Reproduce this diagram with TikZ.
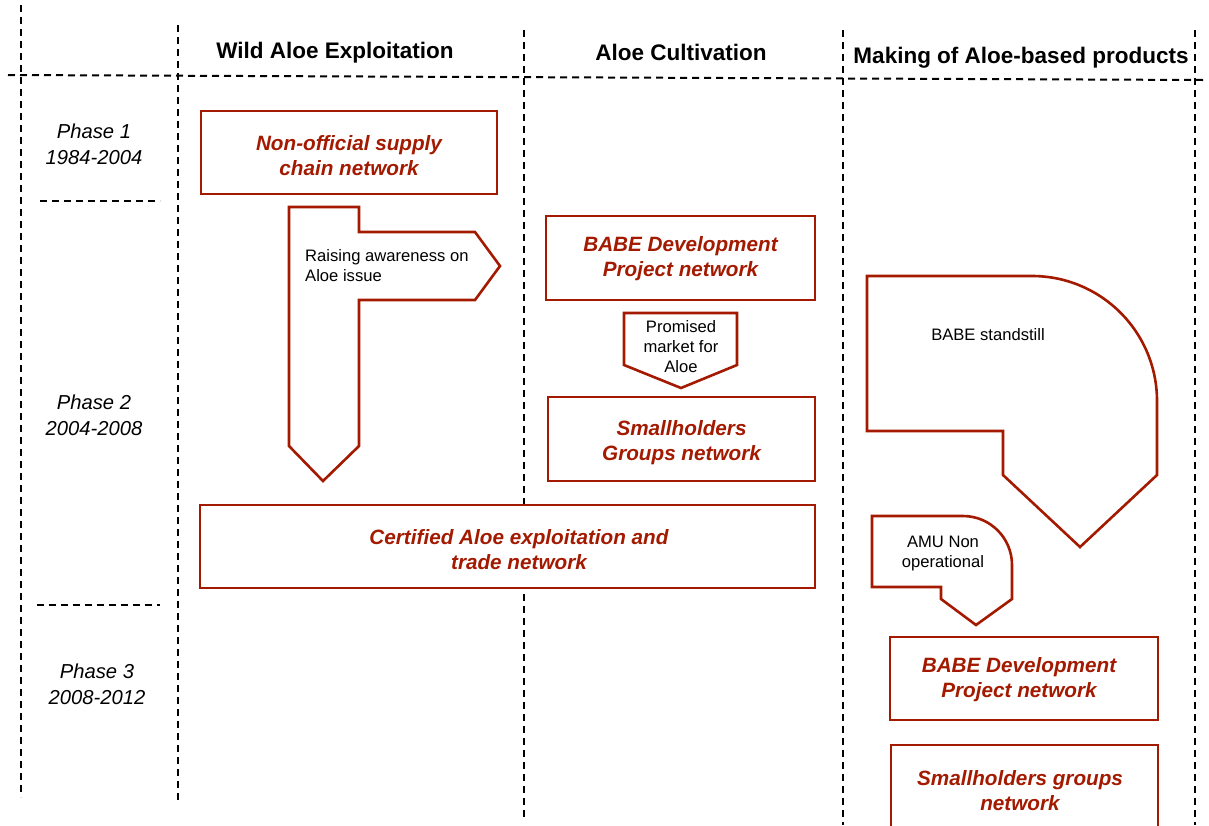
\documentclass[tikz,border=0pt]{standalone}
\usepackage{fontspec}
\setmainfont{Liberation Sans}
\begin{document}
\definecolor{netred}{HTML}{A31A00}
\begin{tikzpicture}[x=1pt,y=-1pt,
  gridline/.style={black,line width=2pt,dash pattern=on 7pt off 5pt},
  header/.style={anchor=base,inner sep=0pt,font=\fontsize{22.5}{27}\selectfont\bfseries},
  phase/.style={align=center,inner sep=0pt,font=\fontsize{20.2}{26}\selectfont\itshape},
  netbox/.style={draw=netred,line width=2.7pt,fill=white,inner sep=0pt},
  nettext/.style={align=center,inner sep=0pt,text=netred,
    font=\fontsize{20.7}{25}\selectfont\bfseries\itshape},
  eventshape/.style={draw=netred,line width=2.6pt,fill=white,line join=miter},
  eventtext/.style={inner sep=0pt,font=\fontsize{16.6}{20}\selectfont}]
\useasboundingbox (0,0) rectangle (1209,825);

% column and row separators
\draw[gridline] (21,5) -- (21,797);
\draw[gridline] (178,25) -- (178,800);
\draw[gridline] (524,30) -- (524,817);
\draw[gridline] (843,30) -- (843,825);
\draw[gridline] (1195,30) -- (1195,825);
\draw[gridline] (8,75) -- (1203,80);
\draw[gridline] (40,201) -- (160,201);
\draw[gridline] (37,605) -- (160,605);

% column headers
\node[header] (hwild) at (335,58) {Wild Aloe Exploitation};
\node[header] (hcult) at (681,60) {Aloe Cultivation};
\node[header] (hmake) at (1021,63) {Making of Aloe-based products};

% phases
\node[phase] (ph1) at (94,144) {Phase 1\\1984-2004};
\node[phase] (ph2) at (94,415) {Phase 2\\2004-2008};
\node[phase] (ph3) at (97,684) {Phase 3\\2008-2012};

% event arrows
\draw[eventshape] (289,207) -- (359,207) -- (359,232) -- (475,232) -- (500,266)
  -- (475,300) -- (359,300) -- (359,446) -- (323,481) -- (289,446) -- cycle;
\node[eventtext,anchor=west,align=left] (raise) at (305,266) {Raising awareness on\\Aloe issue};

\draw[eventshape] (624,313) -- (737,313) -- (737,365) -- (681,388) -- (624,365) -- cycle;
\node[eventtext,align=center] (promise) at (681,347) {Promised\\market for\\Aloe};

\draw[eventshape] (867,276) -- (1032,276) arc[start angle=-90,end angle=0,radius=125]
  -- (1157,475) -- (1080,547) -- (1003,475) -- (1003,431) -- (867,431) -- cycle;
\node[eventtext] (standstill) at (988,335) {BABE standstill};

\draw[eventshape] (872,516) -- (963,516) arc[start angle=-90,end angle=0,radius=49]
  -- (1012,599) -- (976,625) -- (941,599) -- (941,587) -- (872,587) -- cycle;
\node[eventtext,align=center] (amu) at (943,554) {AMU Non\\operational};

% networks: frame first, then its label
\node[netbox,minimum width=296pt,minimum height=83pt] (nonoff) at (349,152.5) {};
\node[nettext] (nonoff-t) at (349,155.5) {Non-official supply\\chain network};
\node[netbox,minimum width=269pt,minimum height=84pt] (babe1) at (680.5,258) {};
\node[nettext] (babe1-t) at (680.5,258.5) {BABE Development\\Project network};
\node[netbox,minimum width=267pt,minimum height=84pt] (small1) at (681.5,439) {};
\node[nettext] (small1-t) at (681.5,442.5) {Smallholders\\Groups network};
\node[netbox,minimum width=615pt,minimum height=83pt] (cert) at (507.5,546.5) {};
\node[nettext] (cert-t) at (519,549.5) {Certified Aloe exploitation and\\trade network};
\node[netbox,minimum width=268pt,minimum height=83pt] (babe2) at (1024,678.5) {};
\node[nettext] (babe2-t) at (1019,679.5) {BABE Development\\Project network};
\node[netbox,minimum width=267pt,minimum height=100pt] (small2) at (1024.5,795) {};
\node[nettext] (small2-t) at (1020,790.5) {Smallholders groups\\network};
\end{tikzpicture}
\end{document}
